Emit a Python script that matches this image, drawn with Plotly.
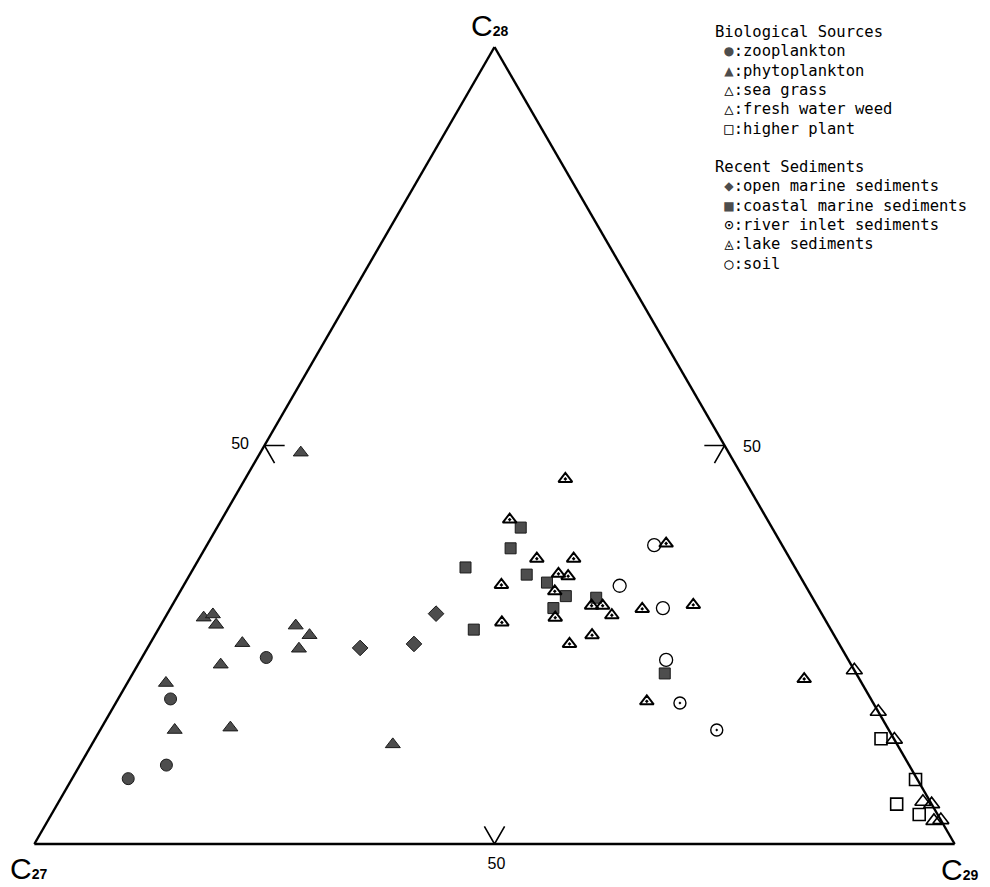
import plotly.graph_objects as go

# ---------------- data (percent of C28 / C27 / C29 steranes) ----------------
zoo_c28 = [23.4, 18.2, 9.9, 8.2]
zoo_c27 = [63.1, 76.1, 80.7, 85.7]
zoo_c29 = [13.5, 5.7, 9.4, 6.1]

phyto_c28 = [49.1, 28.4, 28.8, 27.5, 25.2, 27.4, 26.2, 24.5, 22.5, 20.2, 14.3, 14.6, 12.5]
phyto_c27 = [46.5, 67.4, 66.2, 66.5, 64.8, 57.9, 57.0, 59.0, 68.5, 75.6, 77.6, 71.4, 54.8]
phyto_c29 = [4.4, 4.2, 5.0, 6.0, 10.0, 14.7, 16.8, 16.5, 9.0, 4.2, 8.1, 14.0, 32.7]

seagrass_c28 = [5.3, 2.9, 13.1]
seagrass_c27 = [0.8, 0.8, 0.0]
seagrass_c29 = [93.9, 96.3, 86.9]

weed_c28 = [5.0, 3.0, 21.8, 16.6]
weed_c27 = [0.0, 0.0, 0.0, 0.0]
weed_c29 = [95.0, 97.0, 78.2, 83.4]

plant_c28 = [13.2, 8.1, 5.0, 3.7]
plant_c27 = [1.4, 0.2, 3.8, 2.0]
plant_c29 = [85.4, 91.7, 91.2, 94.3]

openmar_c28 = [24.6, 25.1, 28.9]
openmar_c27 = [52.3, 46.2, 41.9]
openmar_c29 = [23.1, 28.7, 29.2]

coastal_c28 = [26.9, 39.7, 37.1, 34.7, 33.8, 32.8, 31.1, 30.9, 29.6, 21.4]
coastal_c27 = [38.8, 27.3, 29.7, 35.8, 29.6, 27.9, 26.7, 23.5, 28.8, 20.8]
coastal_c29 = [34.3, 33.0, 33.2, 29.5, 36.6, 39.3, 42.2, 45.6, 41.6, 57.8]

river_c28 = [17.7, 14.3]
river_c27 = [21.0, 18.7]
river_c29 = [61.3, 67.0]

lake_c28 = [45.8, 40.7, 35.8, 35.8, 33.9, 33.6, 32.5, 31.7, 29.9, 29.9,
            28.7, 29.5, 30.0, 37.7, 28.4, 27.8, 26.2, 25.1, 17.9, 20.7]
lake_c27 = [19.4, 28.0, 27.5, 23.5, 26.1, 25.2, 33.0, 27.6, 24.5, 23.3,
            22.9, 19.2, 13.4, 12.5, 29.2, 35.3, 26.3, 29.3, 24.5, 6.0]
lake_c29 = [34.8, 31.3, 36.7, 40.7, 40.0, 41.2, 34.5, 40.7, 45.6, 46.8,
            48.4, 51.3, 56.6, 49.8, 42.4, 36.9, 47.5, 45.6, 57.6, 73.3]

soil_c28 = [37.5, 32.4, 29.6, 23.1]
soil_c27 = [13.9, 20.2, 16.9, 19.8]
soil_c29 = [48.6, 47.4, 53.5, 57.1]

tick_values = [50]
tick_labels = ["50"]
vertex_labels = ["C", "C", "C"]
vertex_subs = ["28", "27", "29"]

group_titles = ["Biological Sources", "Recent Sediments"]
bio_names = ["zooplankton", "phytoplankton", "sea grass", "fresh water weed", "higher plant"]
sed_names = ["open marine sediments", "coastal marine sediments",
             "river inlet sediments", "lake sediments", "soil"]

# ---------------- styling ----------------
FILL = "#4d4d4d"
EDGE = "#1a1a1a"
MONO = "DejaVu Sans Mono"
SANS = "Liberation Sans"

bio_data = [(zoo_c28, zoo_c27, zoo_c29), (phyto_c28, phyto_c27, phyto_c29),
            (seagrass_c28, seagrass_c27, seagrass_c29), (weed_c28, weed_c27, weed_c29),
            (plant_c28, plant_c27, plant_c29)]
sed_data = [(openmar_c28, openmar_c27, openmar_c29), (coastal_c28, coastal_c27, coastal_c29),
            (river_c28, river_c27, river_c29), (lake_c28, lake_c27, lake_c29),
            (soil_c28, soil_c27, soil_c29)]

bio_styles = [
    dict(symbol="circle", size=12, color=FILL, line=dict(color=EDGE, width=1)),
    dict(symbol="triangle-up", size=13, color=FILL, line=dict(color=EDGE, width=1)),
    dict(symbol="triangle-up-open", size=14, color="black", line=dict(width=1.6)),
    dict(symbol="triangle-up-open", size=14, color="black", line=dict(width=1.6)),
    dict(symbol="square-open", size=12, color="black", line=dict(width=1.6)),
]
sed_styles = [
    dict(symbol="diamond", size=12, color=FILL, line=dict(color=EDGE, width=1)),
    dict(symbol="square", size=11, color=FILL, line=dict(color=EDGE, width=1)),
    dict(symbol="circle-open-dot", size=12, color="black", line=dict(width=1.4)),
    dict(symbol="triangle-up-open-dot", size=12, color="black", line=dict(width=2)),
    dict(symbol="circle-open", size=13, color="black", line=dict(width=1.3)),
]
bio_glyphs = ["<span style='color:#4d4d4d'>●</span>", "<span style='color:#4d4d4d'>▲</span>",
              "△", "△", "□"]
sed_glyphs = ["<span style='color:#4d4d4d'>◆</span>", "<span style='color:#4d4d4d'>■</span>",
              "⊙", "◬", "○"]

fig = go.Figure()

for names, data, styles in [(bio_names, bio_data, bio_styles), (sed_names, sed_data, sed_styles)]:
    for name, (a, b, c), st in zip(names, data, styles):
        fig.add_trace(go.Scatterternary(
            a=a, b=b, c=c, mode="markers", name=name, marker=st,
            cliponaxis=False, showlegend=False,
            hovertemplate=name + "<br>C27 %{b}<br>C28 %{a}<br>C29 %{c}<extra></extra>"))

# arrow-shaped tick marks at the 50 % positions on each side
arm = 2.2
for v in tick_values:
    w = 100 - v
    # left side (C28 = v)
    fig.add_trace(go.Scatterternary(
        a=[v, v, v - arm], b=[w - arm, w, w], c=[arm, 0, arm],
        mode="lines", line=dict(color="black", width=1.6), showlegend=False,
        hoverinfo="skip", cliponaxis=False))
    # right side (C28 = v)
    fig.add_trace(go.Scatterternary(
        a=[v, v, v - arm], b=[arm, 0, arm], c=[w - arm, w, w],
        mode="lines", line=dict(color="black", width=1.6), showlegend=False,
        hoverinfo="skip", cliponaxis=False))
    # bottom (C27 = v)
    fig.add_trace(go.Scatterternary(
        a=[arm, 0, arm], b=[v, v, v - arm], c=[w - arm, w, w],
        mode="lines", line=dict(color="black", width=1.6), showlegend=False,
        hoverinfo="skip", cliponaxis=False))

axis_common = dict(
    tickmode="array", tickvals=tick_values, ticktext=tick_labels,
    showgrid=False, showline=True, linecolor="black", linewidth=2.4,
    tickfont=dict(family=SANS, size=16, color="black"),
    title=dict(text=""), min=0,
)

# page is offset by the 8px body margin -> figure is 982x879
W, H = 982, 879
fig.update_layout(
    width=W, height=H,
    margin=dict(l=0, r=0, t=0, b=0),
    paper_bgcolor="white",
    showlegend=False,
    ternary=dict(
        sum=100,
        bgcolor="white",
        domain=dict(x=[26 / W, 947 / W], y=[1 - 836 / H, 1 - 39 / H]),
        aaxis=dict(axis_common, ticks="outside", ticklen=12, tickcolor="rgba(0,0,0,0)"),
        baxis=dict(axis_common, ticks="outside", ticklen=4, tickcolor="rgba(0,0,0,0)"),
        caxis=dict(axis_common, ticks="", showticklabels=False),
    ),
)

def vlabel(i):
    return (vertex_labels[i] + "<span style='font-size:14px'><b>" + vertex_subs[i] + "</b></span>")

anns = [
    dict(text=vlabel(0), x=481 / W, y=1 - 17 / H, xanchor="center", yanchor="middle"),
    dict(text=vlabel(1), x=0 / W, y=1 - 860 / H, xanchor="left", yanchor="middle"),
    dict(text=vlabel(2), x=931 / W, y=1 - 861 / H, xanchor="left", yanchor="middle"),
]
for an in anns:
    an.update(xref="paper", yref="paper", showarrow=False,
              font=dict(family=SANS, size=30, color="black"))

# tick label for the C29 side (placed beside the right-hand 50 mark)
anns.append(dict(text=tick_labels[0], x=744 / W, y=1 - 438 / H, xanchor="center",
                 yanchor="middle", xref="paper", yref="paper", showarrow=False,
                 font=dict(family=SANS, size=16, color="black")))

# legend: typed-text style block, one line per annotation
ROW = 19.3
blocks = [(group_titles[0], bio_glyphs, bio_names, 24.0),
          (group_titles[1], sed_glyphs, sed_names, 159.0)]
for title, glyphs, names, y0 in blocks:
    lines = [title] + ["\u00a0" + g + ":" + n for g, n in zip(glyphs, names)]
    for k, line in enumerate(lines):
        anns.append(dict(text=line, x=705 / W, y=1 - (y0 + k * ROW) / H,
                         xanchor="left", yanchor="middle", align="left",
                         xref="paper", yref="paper", showarrow=False,
                         font=dict(family=MONO, size=15.5, color="black")))

fig.update_layout(annotations=anns)
fig.write_html("out.html")
